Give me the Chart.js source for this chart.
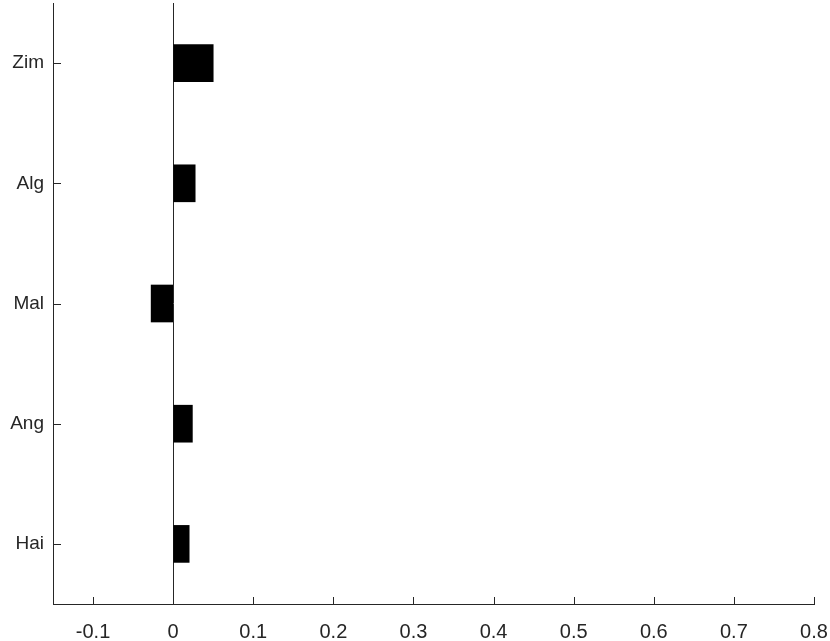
<!DOCTYPE html>
<html>
<head>
<meta charset="utf-8">
<script src="https://cdn.jsdelivr.net/npm/chart.js@4"></script>
<style>
  html, body { margin: 0; padding: 0; background: #fff; }
  #wrap { width: 830px; height: 641px; }
</style>
</head>
<body>
<div id="wrap"><canvas id="c"></canvas></div>
<script>
const countries = ['Zim', 'Alg', 'Mal', 'Ang', 'Hai'];
const values = [0.05, 0.0275, -0.0275, 0.024, 0.02];
const xTicks = [-0.1, 0, 0.1, 0.2, 0.3, 0.4, 0.5, 0.6, 0.7, 0.8];

const axisColor = '#262626';

// MATLAB style ticks point into the plot area
const inwardTicks = {
  id: 'inwardTicks',
  afterDraw(chart) {
    const { ctx, chartArea, scales } = chart;
    ctx.save();
    ctx.strokeStyle = axisColor;
    ctx.lineWidth = 1;
    ctx.beginPath();
    xTicks.forEach(v => {
      const px = Math.round(scales.x.getPixelForValue(v)) + 0.5;
      ctx.moveTo(px, chartArea.bottom);
      ctx.lineTo(px, chartArea.bottom - 7);
    });
    countries.forEach((c, i) => {
      const py = Math.round(scales.y.getPixelForValue(i)) + 0.5;
      ctx.moveTo(chartArea.left, py);
      ctx.lineTo(chartArea.left + 8, py);
    });
    ctx.stroke();
    ctx.restore();
  }
};

new Chart(document.getElementById('c'), {
  type: 'bar',
  data: {
    labels: countries,
    datasets: [{
      data: values,
      backgroundColor: '#000',
      borderColor: '#000',
      borderWidth: 0,
      barThickness: 37
    }]
  },
  options: {
    indexAxis: 'y',
    responsive: true,
    maintainAspectRatio: false,
    animation: false,
    layout: { padding: { top: 3, right: 16, left: 0, bottom: 0 } },
    plugins: { legend: { display: false }, tooltip: { enabled: false } },
    scales: {
      x: {
        type: 'linear',
        min: -0.15,
        max: 0.8,
        afterBuildTicks: s => { s.ticks = xTicks.map(v => ({ value: v })); },
        afterFit: s => { s.height = 37; s.paddingLeft = 0; s.paddingRight = 0; },
        grid: {
          drawTicks: false,
          color: c => (c.tick && c.tick.value === 0 ? axisColor : 'rgba(0,0,0,0)'),
          lineWidth: 1
        },
        border: { display: true, color: axisColor, width: 1 },
        ticks: {
          padding: 16,
          color: axisColor,
          font: { family: 'Liberation Sans, Arial, sans-serif', size: 20 },
          callback: v => String(v)
        }
      },
      y: {
        type: 'category',
        offset: true,
        afterFit: s => { s.width = 53; s.paddingTop = 0; s.paddingBottom = 0; },
        grid: { display: false, drawTicks: false },
        border: { display: true, color: axisColor, width: 1 },
        ticks: {
          padding: 9,
          color: axisColor,
          font: { family: 'Liberation Sans, Arial, sans-serif', size: 19 }
        }
      }
    }
  },
  plugins: [inwardTicks]
});
</script>
</body>
</html>
